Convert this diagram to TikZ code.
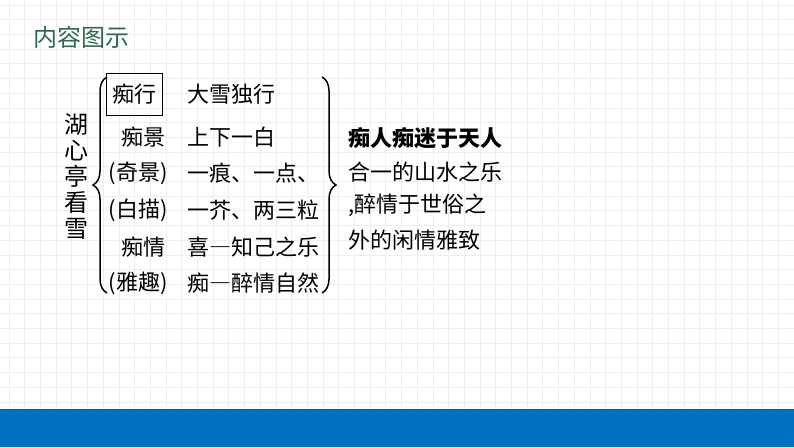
\documentclass[tikz,border=0pt]{standalone}
\usepackage{fontspec}
\newfontfamily\cjk{Noto Sans CJK SC}
\newcommand{\longdash}{{\addfontfeatures{CharacterWidth=Full}—}}
\usepackage{tikz}
\usetikzlibrary{positioning}
\usetikzlibrary{decorations.pathreplacing}
\definecolor{titlegreen}{RGB}{46,104,78}
\definecolor{barblue}{RGB}{0,112,192}
\definecolor{bardark}{RGB}{0,94,166}
\definecolor{gridgray}{RGB}{238,238,238}

\begin{document}
\begin{tikzpicture}[x=1pt, y=-1pt,
titletext/.style={font=\cjk\fontsize{24}{24}\selectfont, text=titlegreen, inner sep=0pt},
sidetext/.style={font=\cjk\fontsize{24}{26}\selectfont, align=center, inner sep=0pt},
rowtext/.style={font=\cjk\fontsize{22}{22}\selectfont, inner sep=0pt},
boxednode/.style={rectangle, draw=black, line width=1pt, minimum width=56pt, minimum height=42pt, inner sep=0pt, font=\cjk\fontsize{22}{22}\selectfont},
notetext/.style={font=\cjk\fontsize{22}{22}\selectfont, inner sep=0pt},
bracket/.style={decorate, decoration={brace, amplitude=14pt}, line width=1.5pt},
gridline/.style={draw=gridgray, line width=0.8pt},
]
\useasboundingbox (0,0) rectangle (794,447);
%Background
\fill[white] (0,0) rectangle (794,447);
\foreach \k in {0,...,50}
  \draw[gridline] ({9+15.7*\k},0) -- ({9+15.7*\k},409);
\foreach \k in {0,...,27}
  \draw[gridline] (0,{5+14.7*\k}) -- (794,{5+14.7*\k});
\fill[barblue] (0,409) rectangle (794,447);
\draw[bardark, line width=1pt] (0,409.5) -- (794,409.5);

%Nodes
\node[titletext, anchor=west]   (Title)  at (33,37)   {内容图示};
\node[sidetext]                 (Side)   at (76,177)  {湖\\心\\亭\\看\\雪};

\node[rowtext, anchor=west]     (R1)     at (187,94)  {大雪独行};
\node[rowtext, anchor=west]     (R2)     at (187,137) {上下一白};
\node[rowtext, anchor=west]     (R3)     at (187,173) {一痕、一点、};
\node[rowtext, anchor=west]     (R4)     at (187,210) {一芥、两三粒};
\node[rowtext, anchor=west]     (R5)     at (187,247) {喜\longdash 知己之乐};
\node[rowtext, anchor=west]     (R6)     at (187,283) {痴\longdash 醉情自然};

\node[boxednode]                (L1)     [left=24pt of R1]   {痴行};
\node[rowtext]                  (L2)     [left=21pt of R2]   {痴景};
\node[rowtext]                  (L3)     [left=19pt of R3]   {(奇景)};
\node[rowtext]                  (L4)     [left=19pt of R4]   {(白描)};
\node[rowtext]                  (L5)     [left=21pt of R5]   {痴情};
\node[rowtext]                  (L6)     [left=19pt of R6]   {(雅趣)};

\node[notetext, anchor=west]    (N1)     at (348,138) {\bfseries 痴人痴迷于天人};
\node[notetext]                 (N2)     [below=13pt of N1.south west, anchor=north west] {合一的山水之乐};
\node[notetext]                 (N3)     [below=11pt of N2.south west, anchor=north west] {,醉情于世俗之};
\node[notetext]                 (N4)     [below=13pt of N3.south west, anchor=north west] {外的闲情雅致};

\coordinate (LBtop) at (107,77);
\coordinate (LBbot) at (107,293);
\coordinate (RBtop) at (322,77);
\coordinate (RBbot) at (322,293);

%Lines
\draw[bracket] (LBbot) -- (LBtop);
\draw[bracket] (RBtop) -- (RBbot);
\end{tikzpicture}
\end{document}
